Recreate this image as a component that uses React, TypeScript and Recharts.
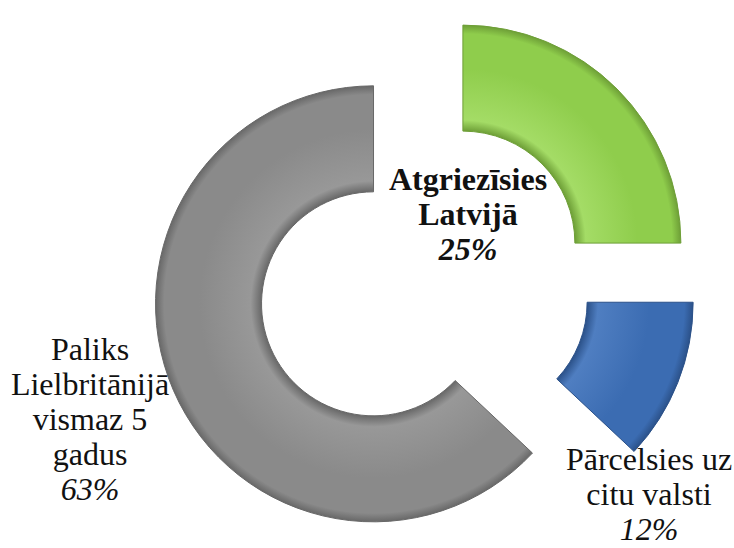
import React from 'react';
import { PieChart, Pie, Sector } from 'recharts';

const categories = ['Atgriezīsies Latvijā', 'Pārcelsies uz citu valsti', 'Paliks Lielbritānijā vismaz 5 gadus'];
const shares = [25, 12, 63];
const labelLines = [
  ['Atgriezīsies', 'Latvijā'],
  ['Pārcelsies uz', 'citu valsti'],
  ['Paliks', 'Lielbritānijā', 'vismaz 5', 'gadus'],
];

const data = categories.map((name, i) => ({ name, value: shares[i] }));

const CX = 419;
const CY = 277;
const EXPLODE = 55;
const RAD = Math.PI / 180;

const TONES = [
  { base: '#8fcd4c', light: '#a4dc66', rim: '#6e9f37' },
  { base: '#3b6cb2', light: '#4f7ec1', rim: '#2b5189' },
  { base: '#8a8a8a', light: '#989898', rim: '#686868' },
];

// first-line anchor of each label block, relative to the pie centre
const LABEL_POS = [
  { dx: 49, dy: -87, bold: true },
  { dx: 230, dy: 193, bold: false },
  { dx: -329, dy: 83, bold: false },
];
const LINE_H = 35;

const indexOf = (props: any) => {
  const i = categories.indexOf(props.name ?? props.payload?.name);
  return i >= 0 ? i : props.index ?? 0;
};

const BevelSector = (props: any) => {
  const { cx, cy, midAngle, innerRadius, outerRadius, startAngle, endAngle } = props;
  const i = indexOf(props);
  const x = cx + EXPLODE * Math.cos(-midAngle * RAD);
  const y = cy + EXPLODE * Math.sin(-midAngle * RAD);
  const tone = TONES[i];
  const id = `bevel-${i}`;
  const r0 = innerRadius / outerRadius;
  return (
    <g>
      <defs>
        <radialGradient id={id} gradientUnits='userSpaceOnUse' cx={x} cy={y} r={outerRadius}>
          <stop offset={r0} stopColor={tone.rim} />
          <stop offset={r0 + 0.05} stopColor={tone.light} />
          <stop offset={0.8} stopColor={tone.base} />
          <stop offset={0.96} stopColor={tone.base} />
          <stop offset={1} stopColor={tone.rim} />
        </radialGradient>
      </defs>
      <Sector
        cx={x}
        cy={y}
        innerRadius={innerRadius}
        outerRadius={outerRadius}
        startAngle={startAngle}
        endAngle={endAngle}
        fill={`url(#${id})`}
        stroke={tone.rim}
        strokeWidth={1}
      />
    </g>
  );
};

// labels sit in a plain svg over the chart
const Labels = () => (
  <svg width={734} height={548} style={{ position: 'absolute', left: 0, top: 0, pointerEvents: 'none' }}>
    {categories.map((name, i) => {
      const pos = LABEL_POS[i];
      const lines = labelLines[i];
      const x = CX + pos.dx;
      const y = CY + pos.dy;
      return (
        <g key={name}>
          {[...lines, `${shares[i]}%`].map((line, k) => (
            <text
              key={k}
              x={x}
              y={y + k * LINE_H}
              textAnchor='middle'
              style={{
                fontFamily: 'Liberation Serif',
                fontSize: 32,
                fontWeight: pos.bold ? 'bold' : 'normal',
                fontStyle: k === lines.length ? 'italic' : 'normal',
                fill: '#111',
              }}>
              {line}
            </text>
          ))}
        </g>
      );
    })}
  </svg>
);

export default function App() {
  return (
    <div style={{ position: 'absolute', left: 0, top: 0, width: 734, height: 548, background: '#fff' }}>
      <PieChart width={734} height={548}>
        <Pie
          data={data}
          dataKey='value'
          nameKey='name'
          cx={CX}
          cy={CY}
          innerRadius={112}
          outerRadius={218}
          startAngle={90}
          endAngle={-270}
          stroke='none'
          shape={BevelSector}
          labelLine={false}
          isAnimationActive={false}
        />
      </PieChart>
      <Labels />
    </div>
  );
}
